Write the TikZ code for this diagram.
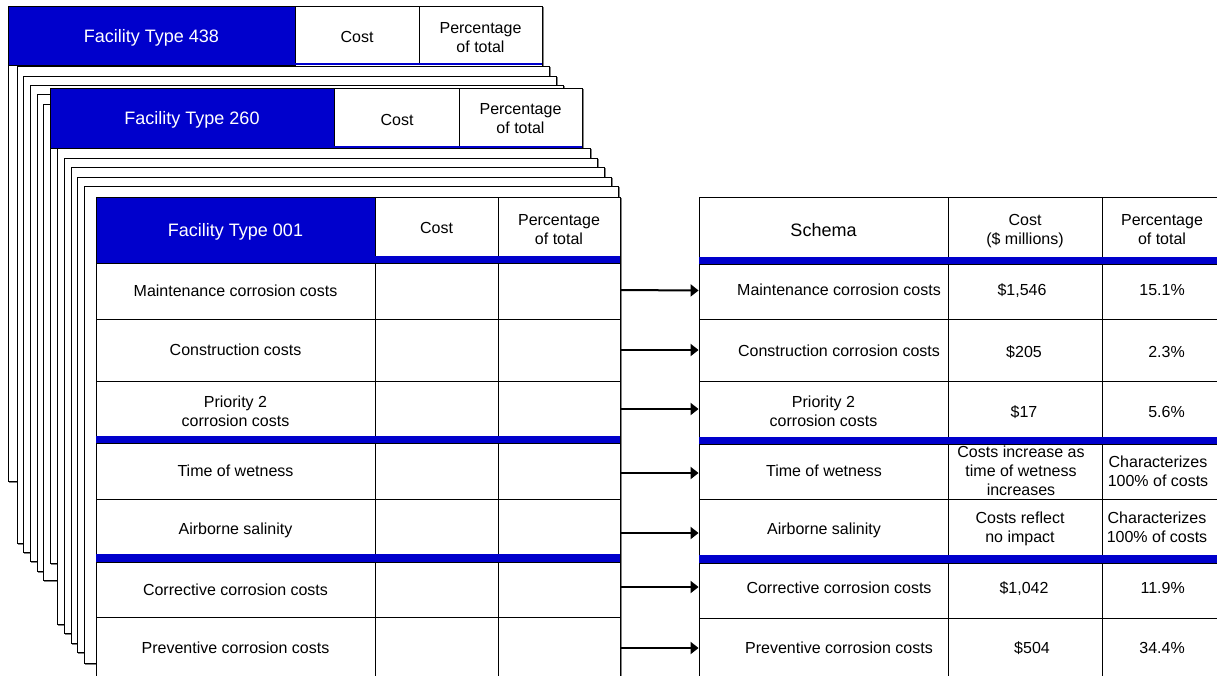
\documentclass[tikz,border=0pt]{standalone}
\usepackage{fontspec}
\setmainfont{Liberation Sans}
\usetikzlibrary{arrows.meta}
\definecolor{fblue}{RGB}{0,0,204}
\definecolor{shadegray}{RGB}{130,130,130}
\newcommand\tpage[4]{%
  \draw[pshadow] ({#1+1.5},{#2+1.5}) rectangle ({#3+1.5},{#4+1.5});
  \filldraw[pagebox] (#1,#2) rectangle (#3,#4);}
\newcommand\tcell[7][]{%
  \pgfmathsetmacro\cw{#5-#3}\pgfmathsetmacro\ch{#6-#4}%
  \node[cellbox, minimum width=\cw pt, minimum height=\ch pt, #1] (#2) at ({(#3+#5)/2},{(#4+#6)/2}) {#7};}
\begin{document}
\begin{tikzpicture}[x=1pt,y=-1pt,
  every node/.style={font=\fontsize{16}{19}\selectfont, align=center, inner sep=0pt, text depth=0pt},
  txt/.style={},
  big/.style={font=\fontsize{18}{21}\selectfont},
  hdrcell/.style={fill=fblue, text=white, font=\fontsize{18}{21}\selectfont},
  cellbox/.style={draw=black, fill=white, line width=0.9pt, rectangle},
  pagebox/.style={draw=black, fill=white, line width=0.9pt},
  pshadow/.style={draw=shadegray, line width=0.9pt},
  band/.style={fill=fblue},
  arr/.style={line width=2pt, -{Triangle[length=8pt,width=12pt]}},
]
\useasboundingbox (0,0) rectangle (1217,675);
\clip (0,0) rectangle (1217,675);

% ---- stack of pages, back to front ----
\tpage{8}{6}{542}{481}
\tcell[hdrcell]{a0}{8}{6}{295}{65}{Facility Type 438}
\tcell{a1}{295}{6}{419}{64}{}
\tcell{a2}{419}{6}{542}{64}{}
\fill[band] (295,62.5) rectangle (542,65);
\node[txt] (a1t) at (357,36.5) {Cost};
\node[txt] (a2t) at (480.5,37.5) {Percentage\\of total};

\tpage{17}{66}{549}{543}
\tpage{23}{76}{556}{552}
\tpage{30}{85}{563}{561}
\tpage{37}{94}{570}{571}
\tpage{43}{104}{577}{580}

\tpage{50}{88}{582}{563}
\tcell[hdrcell]{b0}{50}{88}{334}{148}{Facility Type 260}
\tcell{b1}{334}{88}{459}{147}{}
\tcell{b2}{459}{88}{582}{147}{}
\fill[band] (334,145.5) rectangle (582,148);
\node[txt] (b1t) at (397,120) {Cost};
\node[txt] (b2t) at (520.5,118.5) {Percentage\\of total};

\tpage{57}{148}{590}{624}
\tpage{64}{158}{597}{633}
\tpage{71}{167}{604}{643}
\tpage{77}{177}{611}{652}
\tpage{84}{186}{618}{663}

% ---- Facility Type 001 table ----
\tpage{96}{197}{620}{700}
\tcell[hdrcell]{c0}{96}{197}{375}{263}{Facility Type 001}
\tcell{c1}{375}{197}{498}{256}{}
\tcell{c2}{498}{197}{620}{256}{}
\fill[band] (375,256) rectangle (620,263);
\node[txt] (c1t) at (436.5,228) {Cost};
\node[txt] (c2t) at (559,229) {Percentage\\of total};

\tcell{ln1}{96}{263}{375}{319}{Maintenance corrosion costs}
\tcell{lc1}{375}{263}{498}{319}{}
\tcell{lp1}{498}{263}{620}{319}{}
\tcell{ln2}{96}{319}{375}{381}{Construction costs}
\tcell{lc2}{375}{319}{498}{381}{}
\tcell{lp2}{498}{319}{620}{381}{}
\tcell{ln3}{96}{381}{375}{436}{}
\tcell{lc3}{375}{381}{498}{436}{}
\tcell{lp3}{498}{381}{620}{436}{}
\fill[band] (96,436) rectangle (620,443);
\tcell{ln4}{96}{443}{375}{499}{Time of wetness}
\tcell{lc4}{375}{443}{498}{499}{}
\tcell{lp4}{498}{443}{620}{499}{}
\tcell{ln5}{96}{499}{375}{554}{}
\tcell{lc5}{375}{499}{498}{554}{}
\tcell{lp5}{498}{499}{620}{554}{}
\fill[band] (96,554) rectangle (620,562);
\tcell{ln6}{96}{562}{375}{617}{Corrective corrosion costs}
\tcell{lc6}{375}{562}{498}{617}{}
\tcell{lp6}{498}{562}{620}{617}{}
\tcell{ln7}{96}{617}{375}{679}{Preventive corrosion costs}
\tcell{lc7}{375}{617}{498}{679}{}
\tcell{lp7}{498}{617}{620}{679}{}
\node[txt] (lt3) at (235.5,411) {Priority 2\\corrosion costs};
\node[txt] (lt5) at (235.5,528.5) {Airborne salinity};

% ---- Schema table ----
\tcell{rh0}{699}{197}{948}{257}{}
\tcell{rh1}{948}{197}{1102}{257}{}
\tcell{rh2}{1102}{197}{1225}{257}{}
\fill[band] (699,257) rectangle (1225,264);
\node[txt, big] (rh0t) at (823.5,230) {Schema};
\node[txt] (rh1t) at (1025,229.5) {Cost\\(\$ millions)};
\node[txt] (rh2t) at (1162,229.5) {Percentage\\of total};

\tcell{rn1}{699}{264}{948}{319}{}
\tcell{rc1}{948}{264}{1102}{319}{}
\tcell{rp1}{1102}{264}{1225}{319}{}
\tcell{rn2}{699}{319}{948}{381}{}
\tcell{rc2}{948}{319}{1102}{381}{}
\tcell{rp2}{1102}{319}{1225}{381}{}
\tcell{rn3}{699}{381}{948}{437}{}
\tcell{rc3}{948}{381}{1102}{437}{}
\tcell{rp3}{1102}{381}{1225}{437}{}
\fill[band] (699,437) rectangle (1225,444);
\tcell{rn4}{699}{444}{948}{499}{}
\tcell{rc4}{948}{444}{1102}{499}{}
\tcell{rp4}{1102}{444}{1225}{499}{}
\tcell{rn5}{699}{499}{948}{555}{}
\tcell{rc5}{948}{499}{1102}{555}{}
\tcell{rp5}{1102}{499}{1225}{555}{}
\fill[band] (699,555) rectangle (1225,563);
\tcell{rn6}{699}{563}{948}{618}{}
\tcell{rc6}{948}{563}{1102}{618}{}
\tcell{rp6}{1102}{563}{1225}{618}{}
\tcell{rn7}{699}{618}{948}{679}{}
\tcell{rc7}{948}{618}{1102}{679}{}
\tcell{rp7}{1102}{618}{1225}{679}{}

\node[txt] (tn1) at (839,290) {Maintenance corrosion costs};
\node[txt] (tn2) at (839,351) {Construction corrosion costs};
\node[txt] (tn3) at (823.5,411.5) {Priority 2\\corrosion costs};
\node[txt] (tn4) at (824,470.5) {Time of wetness};
\node[txt] (tn5) at (824,529) {Airborne salinity};
\node[txt] (tn6) at (839,588) {Corrective corrosion costs};
\node[txt] (tn7) at (839,648) {Preventive corrosion costs};

\node[txt] (tc1) at (1022,290) {\$1,546};
\node[txt] (tc2) at (1024,352) {\$205};
\node[txt] (tc3) at (1024,412) {\$17};
\node[txt] (tc4) at (1021,471) {Costs increase as\\time of wetness\\increases};
\node[txt] (tc5) at (1020,527.5) {Costs reflect\\no impact};
\node[txt] (tc6) at (1024,588) {\$1,042};
\node[txt] (tc7) at (1032,648) {\$504};

\node[txt, anchor=east] (tp1) at (1185,290) {15.1\%};
\node[txt, anchor=east] (tp2) at (1185,352) {2.3\%};
\node[txt, anchor=east] (tp3) at (1185,412) {5.6\%};
\node[txt] (tp4) at (1158,471.5) {Characterizes\\100\% of costs};
\node[txt] (tp5) at (1157,527.5) {Characterizes\\100\% of costs};
\node[txt, anchor=east] (tp6) at (1185,588) {11.9\%};
\node[txt, anchor=east] (tp7) at (1185,648) {34.4\%};

% ---- arrows ----
\draw[arr] ([yshift=1pt]lp1.east) -- ([yshift=1pt]rn1.west);
\draw[arr] (lp2.east) -- (rn2.west);
\draw[arr] ([yshift=-0.5pt]lp3.east) -- ([yshift=-0.5pt]lp3.east -| rn3.west);
\draw[arr] ([yshift=-2pt]lp4.east) -- ([yshift=-2pt]lp4.east -| rn4.west);
\draw[arr] ([yshift=-6.5pt]lp5.east) -- ([yshift=-6.5pt]lp5.east -| rn5.west);
\draw[arr] ([yshift=2.5pt]lp6.east) -- ([yshift=2.5pt]lp6.east -| rn6.west);
\draw[arr] (lp7.east) -- (lp7.east -| rn7.west);
\end{tikzpicture}
\end{document}
